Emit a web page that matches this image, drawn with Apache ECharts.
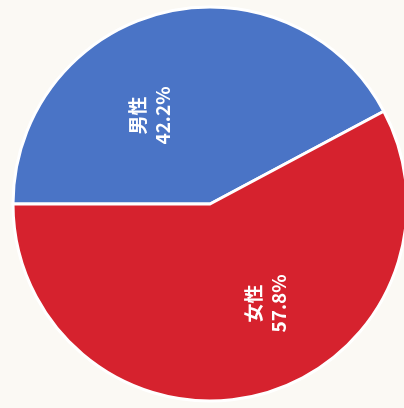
<!DOCTYPE html>
<html>
<head>
<meta charset="utf-8">
<script src="https://cdn.jsdelivr.net/npm/echarts@6/dist/echarts.min.js"></script>
<style>
  html, body { margin: 0; padding: 0; background: #fbf9f4; }
  #chart { width: 404px; height: 408px; }
</style>
</head>
<body>
<div id="chart"></div>
<script>
// Gender breakdown (percent)
const categories = ['男性', '女性'];
const shares = [42.2, 57.8];
const sliceColors = ['#4a74c6', '#d6222e'];

// Label nudges in the label's own (rotated) frame: [dx, dy]
const labelNudge = [[-10, -35], [-1, 32]];

const chart = echarts.init(document.getElementById('chart'), null, { renderer: 'canvas' });

chart.setOption({
  backgroundColor: '#fbf9f4',
  animation: false,
  series: [{
    type: 'pie',
    center: [210, 204],
    radius: 197,
    startAngle: 180,
    clockwise: true,
    silent: true,
    itemStyle: { borderColor: '#ffffff', borderWidth: 3 },
    label: {
      show: true,
      position: 'inside',
      rotate: 90,
      color: '#ffffff',
      fontFamily: 'Noto Sans CJK JP',
      fontWeight: 'bold',
      fontSize: 19,
      lineHeight: 25,
      align: 'center',
      formatter: p => p.name + '\n' + p.value.toFixed(1) + '%'
    },
    labelLine: { show: false },
    labelLayout: p => ({ dx: labelNudge[p.dataIndex][0], dy: labelNudge[p.dataIndex][1] }),
    data: categories.map((name, i) => ({
      name,
      value: shares[i],
      itemStyle: { color: sliceColors[i] }
    }))
  }]
});
</script>
</body>
</html>
